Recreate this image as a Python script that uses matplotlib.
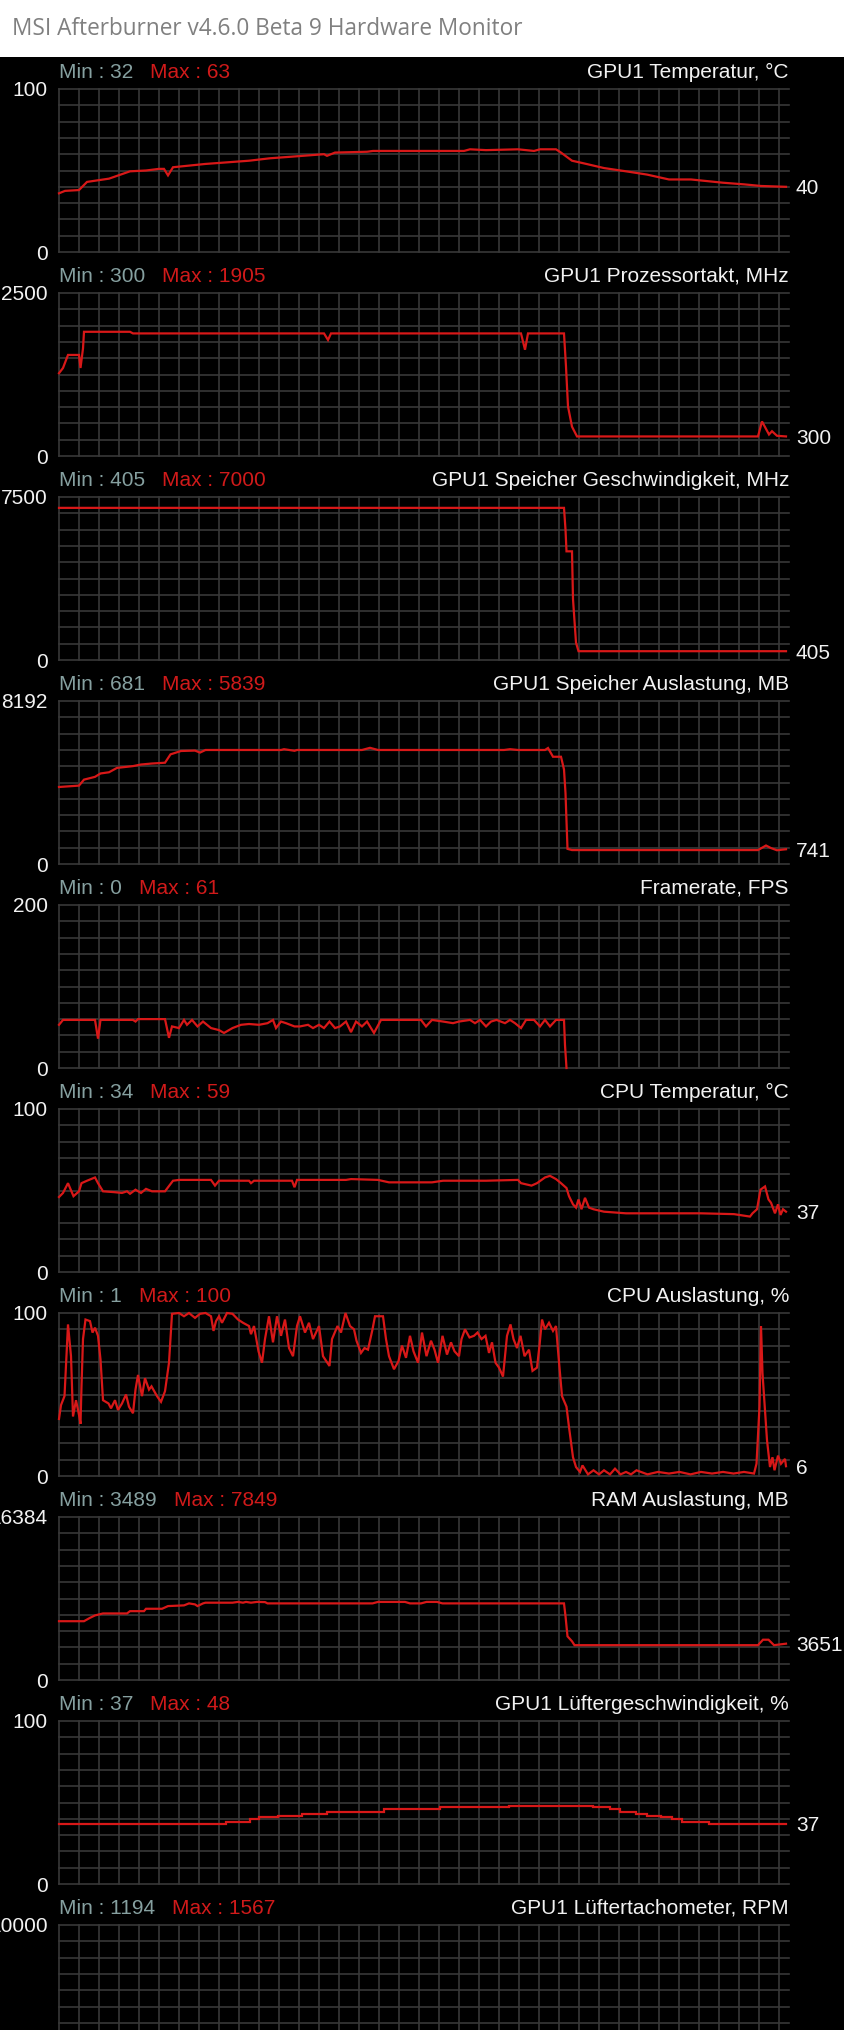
import matplotlib
matplotlib.use('Agg')
import matplotlib.pyplot as plt
import numpy as np
from matplotlib.patches import Rectangle

plt.rcParams['font.family'] = ['Liberation Sans', 'DejaVu Sans']

# ---------------- data (x = sample index, 0..730 across the graph) ----------------
gpu_temp_t = [0, 6, 20, 28, 39, 50, 71, 87, 100, 105, 109, 114, 130, 146, 168, 190, 211, 233,
              265, 268, 276, 308, 314, 405, 411, 427, 459, 475, 481, 497, 502, 513, 524, 545,
              567, 588, 610, 632, 648, 664, 685, 702, 727]
gpu_temp_v = [36, 37.5, 38, 43, 44, 45, 49.5, 50, 51, 51, 47, 52, 53, 54, 55, 56, 57.5, 58.5,
              60, 59, 61, 61.5, 62, 62, 63, 62.5, 63, 62, 63, 63, 61, 56, 54.5, 51.5,
              49.5, 47.5, 44.5, 44.5, 43.5, 42.5, 41.5, 40.5, 40]

gpu_clock_t = [0, 4, 9, 20, 21.5, 24, 25, 71, 74, 265, 269, 272, 462, 466, 469, 505, 507, 509,
               513, 518, 699, 703, 710, 713, 718, 727]
gpu_clock_v = [1270, 1350, 1550, 1550, 1350, 1650, 1905, 1905, 1880, 1880, 1780, 1880, 1880,
               1630, 1880, 1880, 1370, 760, 450, 300, 300, 530, 330, 380, 310, 300]

mem_clock_t = [0, 505, 506.5, 507.5, 513, 514, 517, 519.5, 727]
mem_clock_v = [7000, 7000, 6000, 5000, 5000, 2800, 800, 405, 405]

vram_t = [0, 20, 25, 36, 41.5, 50, 58, 74, 82, 93, 106, 111.5, 122, 136, 141, 146.5, 222, 225,
          235.5, 238, 303, 311, 319, 445, 451, 459, 486, 489, 494, 502, 505, 506.5, 508.5, 513,
          699, 707, 712, 718, 723, 727]
vram_v = [3870, 3940, 4240, 4380, 4550, 4610, 4830, 4920, 5000, 5050, 5090, 5510, 5680, 5700,
          5600, 5730, 5730, 5770, 5690, 5730, 5730, 5839, 5730, 5730, 5770, 5730, 5730, 5830,
          5390, 5390, 4750, 3560, 760, 700, 700, 930, 800, 690, 720, 741]

fps_t = [0, 4, 36, 39, 41.5, 74, 76.5, 79, 106, 110, 113, 120, 125, 128, 133, 138.5, 144, 152,
         160, 165, 173.5, 182, 190, 200, 208.5, 214, 217, 222, 227, 235.5, 241, 249, 254, 260,
         265, 270.5, 276, 281, 287, 292, 297, 303, 308, 315, 322, 362, 367, 373, 384, 394, 400,
         411, 416, 421, 427, 432, 437.5, 446, 451, 456, 462, 467, 475, 481, 486, 491, 497, 505,
         506, 507.5]
fps_v = [53, 59, 59, 36, 59, 59, 57, 60, 60, 37, 51, 49, 59, 53, 59, 51, 57, 49,
         46.5, 43, 49, 53, 54, 53, 55, 59, 49, 57, 55, 51, 51, 53, 49, 53,
         49, 57, 49, 51, 57, 44, 57, 51, 57, 43, 59, 59, 51, 59, 57, 55, 57,
         59, 55, 59, 51, 57, 59, 55, 59, 55, 49, 59, 59, 51, 59, 51, 59, 59,
         28, 0]

cpu_temp_t = [0, 4, 9, 14.5, 20, 22.5, 28, 36, 39, 44, 55, 63, 68, 71, 76.5, 82, 87, 93, 106,
              114, 120, 152, 156, 160, 190, 192, 195, 233, 235.5, 238, 287, 292, 319, 330, 373,
              384, 427, 459, 462, 472.5, 478, 486, 491, 497, 502, 507.5, 510, 514, 517, 519.5,
              522.5, 526, 530, 534.5, 545, 556, 567, 588, 610, 642, 675, 691, 693.5, 698, 701.5,
              706, 709.5, 712, 716, 719, 721.5, 724, 727]
cpu_temp_v = [46, 48.5, 54.5, 46.5, 49.5, 54.5, 56, 58, 54.5, 49.5, 49, 48.5, 49.5, 48, 50.5,
              48.5, 51, 49.5, 49.5, 56, 56.5, 56.5, 53, 56, 56, 54.5, 56, 56, 52, 56.5, 56.5,
              57, 56.5, 55, 55, 56, 56, 56.5, 54.5, 53, 54.5, 58, 59, 57, 54.5, 51.5, 46.5,
              41.5, 39.5, 44.5, 38.5, 45.5, 39.5, 38.5, 37, 36.5, 36, 36, 36, 36, 35.5, 34, 36,
              38.5, 50.5, 52.5, 44.5, 42.5, 36, 41.5, 35, 38.5, 37]

cpu_load_t = [0, 2, 5.5, 9, 12, 14, 17, 20, 21.5, 22.5, 24, 26.5, 31, 33.5, 36, 39, 41.5, 44,
              49.5, 52, 56, 59, 63, 67, 70, 74, 76.5, 79, 83, 86, 90, 92.5, 98, 102, 106, 110,
              113, 120, 125, 130, 136, 141, 146.5, 152, 154.5, 157, 160, 163, 168, 173.5, 179,
              184, 190, 192, 195, 199.5, 203, 206, 210, 214, 218, 222, 226, 230, 234, 238, 241,
              246, 250, 254, 260, 264, 270.5, 273, 278.5, 282, 286.5, 291, 295, 297.5, 302, 305.5,
              309, 313.5, 316, 324, 327, 330, 335, 339.5, 343, 347, 351, 354.5, 359, 363, 367.5,
              372, 375.5, 379, 383.5, 388, 392, 395.5, 400, 402.5, 406, 410.5, 415, 418.5, 422.5,
              426.5, 430, 433, 436.5, 440, 444, 448, 451.5, 454.5, 458, 461.5, 465.5, 470, 473.5,
              478, 480.5, 483, 486, 490, 494, 497, 499.5, 503, 507.5, 510, 514, 517, 521, 523.5,
              529, 534.5, 540, 545, 551, 556, 561.5, 567, 572, 577.5, 588.5, 599, 610, 620.5, 631.5,
              642, 653, 664, 674.5, 685, 695, 697.5, 700.5, 702, 703.5, 706, 708, 711, 713.5,
              715.5, 719, 722, 726, 727]
cpu_load_v = [35, 43.5, 49, 93, 73.5, 36.5, 46.5, 37.5, 32, 55, 84, 96, 95, 88, 91, 86, 71.5,
              46.5, 44.5, 41.5, 46.5, 40.5, 44.5, 50, 42.5, 38.5, 53, 62, 49, 60, 53, 55, 49,
              45.5, 52, 69.5, 99.5, 100, 98, 100, 97, 99.5, 100, 98, 89, 95, 98, 94, 100, 99.5,
              96, 94, 92, 87, 92, 76.5, 69.5, 84, 98, 82, 98, 86, 96, 78.5, 73.5, 92, 98,
              88, 94, 84, 92, 73.5, 67.5, 84, 92, 88, 100, 92, 90, 83, 75.5, 78.5,
              77.5, 90, 98, 98, 84, 73.5, 65.5, 70.5, 80, 72.5, 86, 76.5, 69.5, 88, 73.5,
              83, 77.5, 69.5, 86, 74.5, 82, 76.5, 73.5, 84, 90, 85, 86, 88, 84,
              86, 75.5, 82, 69.5, 66.5, 61, 86, 93, 84, 78.5, 86, 73.5, 77.5, 64.5,
              66.5, 80, 96, 90, 94, 89, 92, 73.5, 49, 42.5, 30, 11.5, 5.5, 2.5, 6.5,
              1, 3.5, 1, 3.5, 1, 4.5, 1, 2.5, 1, 3.5, 1, 2.5, 1.5, 2.5, 1,
              2.5, 1.5, 2.5, 1.5, 2.5, 1.5, 7.5, 42.5, 92, 63, 40.5, 22, 5.5, 11.5,
              3.5, 12.5, 7.5, 10.5, 6]

ram_t = [0, 25, 31, 36, 44, 68, 71, 85, 87, 103, 109, 125, 130, 136, 138.5, 144, 146.5, 173.5,
         179, 184, 187, 192, 198, 206, 208.5, 313.5, 319, 346, 351, 362, 367.5, 378, 383.5, 505,
         506.5, 508.5, 513, 515.5, 699, 704, 709.5, 715, 727]
ram_v = [5910, 5910, 6250, 6490, 6690, 6690, 6920, 6920, 7160, 7160, 7430, 7500, 7700, 7600,
         7430, 7700, 7770, 7770, 7849, 7770, 7849, 7770, 7849, 7830, 7700, 7700, 7849, 7849,
         7700, 7700, 7849, 7849, 7700, 7700, 6420, 4390, 3890, 3500, 3500, 4050, 4050, 3500,
         3651]

fan_t = [0, 167, 191, 200, 219, 243, 268, 325, 381, 450, 534, 551, 561, 577, 588, 602, 613,
         623, 650, 727]
fan_v = [37, 38, 40, 41, 42, 43, 44, 46, 47, 48, 47, 46, 44, 43, 42, 41, 40, 38, 37, 37]

panel_names = ['GPU1 Temperatur, °C', 'GPU1 Prozessortakt, MHz',
               'GPU1 Speicher Geschwindigkeit, MHz', 'GPU1 Speicher Auslastung, MB',
               'Framerate, FPS', 'CPU Temperatur, °C', 'CPU Auslastung, %',
               'RAM Auslastung, MB', 'GPU1 Lüftergeschwindigkeit, %',
               'GPU1 Lüftertachometer, RPM']
panel_min = [32, 300, 405, 681, 0, 34, 1, 3489, 37, 1194]
panel_max = [63, 1905, 7000, 5839, 61, 59, 100, 7849, 48, 1567]
panel_ymax = [100, 2500, 7500, 8192, 200, 100, 100, 16384, 100, 10000]
panel_current = ['40', '300', '405', '741', None, '37', '6', '3651', '37', None]
panel_t = [gpu_temp_t, gpu_clock_t, mem_clock_t, vram_t, fps_t, cpu_temp_t, cpu_load_t,
           ram_t, fan_t, None]
panel_v = [gpu_temp_v, gpu_clock_v, mem_clock_v, vram_v, fps_v, cpu_temp_v, cpu_load_v,
           ram_v, fan_v, None]
panel_steps = [False, False, False, False, False, False, False, False, True, False]

# ---------------- figure ----------------
W, H = 845, 2030
fig = plt.figure(figsize=(W / 100, H / 100), dpi=100, facecolor='black')

# white window title bar
fig.add_artist(Rectangle((0, 1 - 57 / H), 1, 57 / H, transform=fig.transFigure,
                         facecolor='white', edgecolor='none'))
fig.text(12 / W, 1 - 29 / H, 'MSI Afterburner v4.6.0 Beta 9 Hardware Monitor',
         family=['Open Sans', 'DejaVu Sans'], fontsize=16.3, color='#808080',
         ha='left', va='center')

min_col = '#86a0a0'
max_col = '#d01a1a'
txt_col = '#f2f2f2'
line_col = '#d81818'
grid_col = '#383838'

for i in range(len(panel_names)):
    top = 89 + 204 * i
    ax = fig.add_axes([59 / W, 1 - (top + 163) / H, 730 / W, 163 / H])
    ax.set_facecolor('black')
    ymax = panel_ymax[i]
    ax.set_xlim(0, 730)
    ax.set_ylim(0, ymax)

    # grid
    ax.set_xticks(np.arange(0, 730, 20))
    ax.set_yticks(np.linspace(0, ymax, 11), minor=True)
    ax.set_yticks([0, ymax], labels=['0', str(ymax)])
    ax.grid(True, which='both', color=grid_col, lw=1.2)
    for tk in ax.xaxis.get_major_ticks() + ax.yaxis.get_minor_ticks() + ax.yaxis.get_major_ticks():
        tk.gridline.set_clip_on(False)
    ax.tick_params(which='both', length=0, labelbottom=False, pad=8,
                   labelsize=15, labelcolor=txt_col)
    for s in ax.spines.values():
        s.set_visible(False)

    # header row
    mn = ax.annotate(f'Min : {panel_min[i]}', xy=(0, 1), xycoords='axes fraction',
                     xytext=(0, 11), textcoords='offset pixels', ha='left', va='baseline',
                     fontsize=15, color=min_col)
    ax.annotate(f'Max : {panel_max[i]}', xy=(1, 0), xycoords=mn, xytext=(17, 0),
                textcoords='offset pixels', ha='left', va='bottom', fontsize=15, color=max_col)
    ax.annotate(panel_names[i], xy=(1, 1), xycoords='axes fraction', xytext=(0, 11),
                textcoords='offset pixels', ha='right', va='baseline', fontsize=15,
                color=txt_col)

    # data
    if panel_t[i] is not None:
        ax.plot(panel_t[i], panel_v[i], color=line_col, lw=1.6, clip_on=False,
                drawstyle='steps-post' if panel_steps[i] else 'default',
                solid_joinstyle='miter')
    if panel_current[i] is not None:
        ax.annotate(panel_current[i], xy=(1, panel_v[i][-1]),
                    xycoords=('axes fraction', 'data'), xytext=(7, 0),
                    textcoords='offset pixels', ha='left', va='center_baseline',
                    fontsize=15, color=txt_col)

fig.savefig('out.png', dpi=100, facecolor='black')
